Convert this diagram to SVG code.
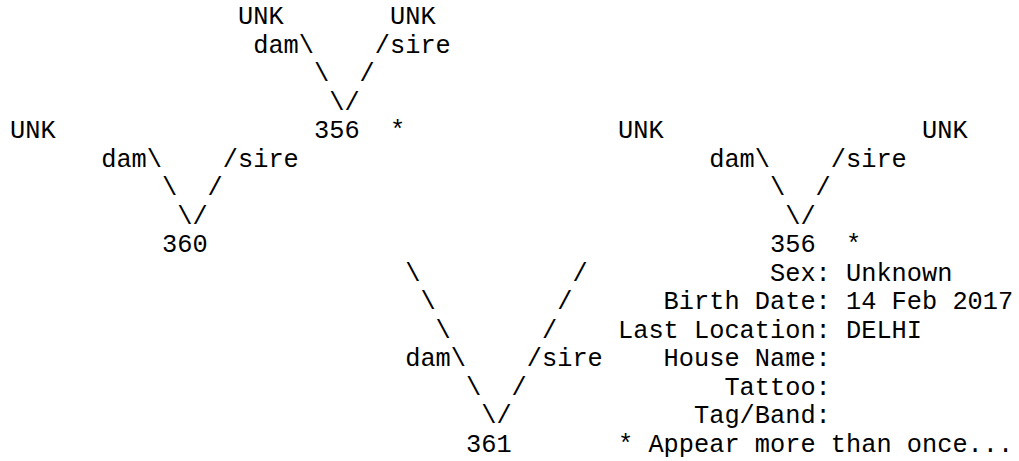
<svg xmlns="http://www.w3.org/2000/svg" width="1019" height="461" viewBox="0 0 1019 461">
<style>
text{font-family:"Liberation Mono","Courier New",monospace;font-size:25.33px;fill:#000;white-space:pre}
</style>
<rect width="1019" height="461" fill="#fff"/>
<g id="connectors">
<text x="253.2" y="52.8">dam\</text><text x="374.8" y="52.8">/sire</text>
<text x="314" y="81.3">\</text><text x="359.6" y="81.3">/</text>
<text x="329.2" y="109.8">\/</text>
<text x="101.2" y="166.8">dam\</text><text x="222.8" y="166.8">/sire</text>
<text x="162" y="195.3">\</text><text x="207.6" y="195.3">/</text>
<text x="177.2" y="223.8">\/</text>
<text x="709.2" y="166.8">dam\</text><text x="830.8" y="166.8">/sire</text>
<text x="770" y="195.3">\</text><text x="815.6" y="195.3">/</text>
<text x="785.2" y="223.8">\/</text>
<text x="405.2" y="280.8">\</text><text x="572.4" y="280.8">/</text>
<text x="420.4" y="309.3">\</text><text x="557.2" y="309.3">/</text>
<text x="435.6" y="337.8">\</text><text x="542" y="337.8">/</text>
<text x="405.2" y="366.3">dam\</text><text x="526.8" y="366.3">/sire</text>
<text x="466" y="394.8">\</text><text x="511.6" y="394.8">/</text>
<text x="481.2" y="423.3">\/</text>
</g>
<g id="node-unk-1"><text x="238" y="24.3">UNK</text></g>
<g id="node-unk-2"><text x="390" y="24.3">UNK</text></g>
<g id="node-unk-3"><text x="10" y="138.3">UNK</text></g>
<g id="node-356-a"><text x="314" y="138.3">356  *</text></g>
<g id="node-unk-4"><text x="618" y="138.3">UNK</text></g>
<g id="node-unk-5"><text x="922" y="138.3">UNK</text></g>
<g id="node-360"><text x="162" y="252.3">360</text></g>
<g id="node-356-b">
<text x="770" y="252.3">356  *</text>
<text x="770" y="280.8">Sex: Unknown</text>
<text x="663.6" y="309.3">Birth Date: 14 Feb 2017</text>
<text x="618" y="337.8">Last Location: DELHI</text>
<text x="663.6" y="366.3">House Name:</text>
<text x="724.4" y="394.8">Tattoo:</text>
<text x="694" y="423.3">Tag/Band:</text>
<text x="618" y="451.8">* Appear more than once...</text>
</g>
<g id="node-361"><text x="466" y="451.8">361</text></g>
</svg>
